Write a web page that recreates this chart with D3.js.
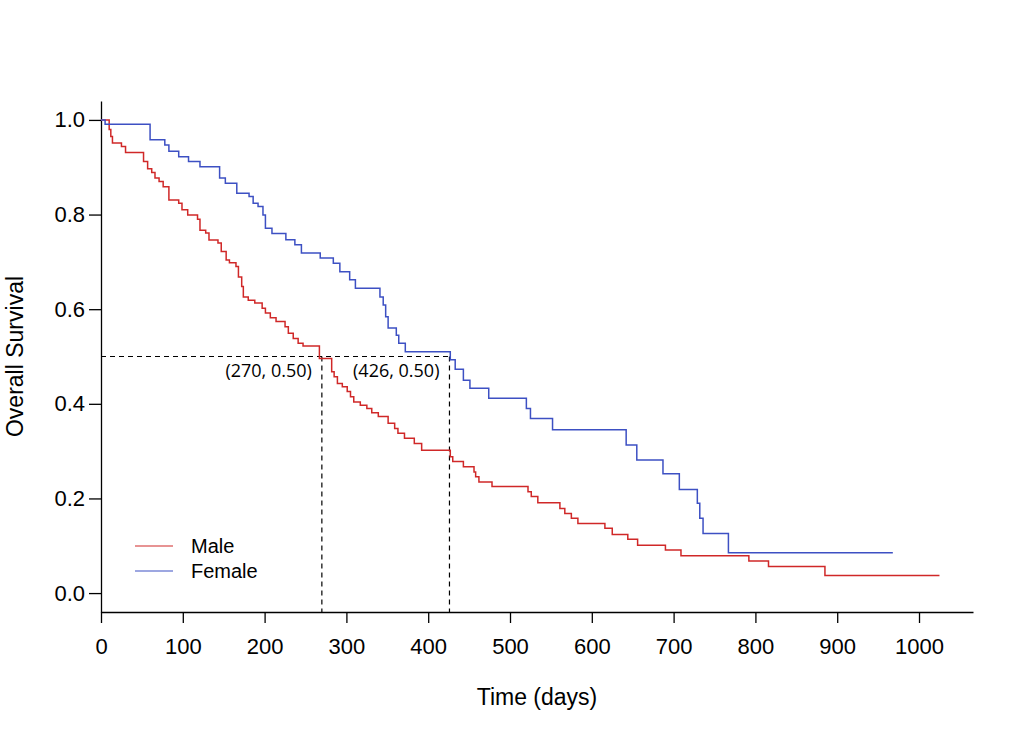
<!DOCTYPE html>
<html>
<head>
<meta charset="utf-8">
<script src="https://cdn.jsdelivr.net/npm/d3@7"></script>
<style>
  body { margin: 0; background: #fff; }
  svg text { font-family: "Liberation Sans", Arial, sans-serif; fill: #000; }
  .axis path, .axis line { stroke: #000; stroke-width: 1.3; }
  .note { font-family: "Open Sans", "Noto Sans", sans-serif; }
</style>
</head>
<body>
<div id="container"></div>
<script>
// Kaplan-Meier steps (time in days, survival after the drop)
const male_time = [0, 10, 12, 14, 25, 30, 52, 57, 62, 66, 71, 76, 83, 95, 99, 106, 118, 121, 128, 132,
  143, 147, 153, 157, 165, 168, 172, 174, 180, 188, 197, 201, 207, 214, 225, 229, 235, 241, 247, 267,
  282, 285, 289, 295, 301, 305, 309, 317, 325, 331, 339, 351, 359, 363, 371, 383, 392, 427, 430, 443,
  456, 458, 462, 478, 522, 526, 534, 561, 567, 575, 583, 616, 625, 644, 656, 690, 709, 792, 816, 885, 1025];
const male_surv = [1.0, 0.98, 0.965, 0.951, 0.944, 0.931, 0.912, 0.897, 0.889, 0.877, 0.870, 0.859, 0.831, 0.824, 0.810, 0.799, 0.790, 0.767, 0.761, 0.746,
  0.740, 0.722, 0.704, 0.698, 0.690, 0.668, 0.648, 0.626, 0.619, 0.613, 0.602, 0.592, 0.582, 0.574, 0.563, 0.549, 0.538, 0.528, 0.522, 0.496,
  0.468, 0.457, 0.443, 0.436, 0.426, 0.415, 0.404, 0.397, 0.390, 0.381, 0.373, 0.359, 0.348, 0.338, 0.327, 0.316, 0.302, 0.288, 0.278, 0.267,
  0.256, 0.246, 0.235, 0.225, 0.214, 0.204, 0.191, 0.179, 0.168, 0.158, 0.147, 0.137, 0.124, 0.114, 0.101, 0.091, 0.079, 0.068, 0.056, 0.037, 0.037];

const female_time = [0, 5, 60, 78, 83, 95, 107, 121, 145, 152, 166, 181, 186, 192, 198, 201, 209, 226, 237, 245,
  268, 284, 292, 304, 311, 341, 345, 348, 351, 361, 364, 372, 427, 433, 443, 451, 474, 520, 525, 552,
  642, 655, 687, 707, 729, 732, 736, 767, 968];
const female_surv = [1.0, 0.991, 0.958, 0.947, 0.934, 0.922, 0.912, 0.901, 0.877, 0.866, 0.845, 0.838, 0.824, 0.817, 0.799, 0.771, 0.760, 0.747, 0.736, 0.719,
  0.708, 0.697, 0.679, 0.662, 0.644, 0.626, 0.609, 0.584, 0.560, 0.545, 0.528, 0.510, 0.493, 0.473, 0.450, 0.433, 0.412, 0.390, 0.369, 0.345,
  0.313, 0.281, 0.252, 0.219, 0.190, 0.158, 0.126, 0.085, 0.085];

const groups = ["Male", "Female"];
const colors = ["#d02828", "#3d50c3"];

const x_ticks = [0, 100, 200, 300, 400, 500, 600, 700, 800, 900, 1000];
const y_ticks = [0, 0.2, 0.4, 0.6, 0.8, 1.0];

// median survival markers
const medians = [270, 426];
const median_surv = 0.5;

var width = 1024, height = 737;

var svg = d3.select("#container").append("svg")
    .attr("width", width)
    .attr("height", height);

var x = d3.scaleLinear().domain([0, 1066]).range([101, 973]);
var y = d3.scaleLinear().domain([-0.04, 1.04]).range([612, 101]);

// axes
var xaxis = svg.append("g")
    .attr("class", "axis")
    .attr("transform", "translate(0," + y.range()[0] + ")")
    .call(d3.axisBottom(x).tickValues(x_ticks).tickSize(11).tickSizeOuter(0).tickPadding(15).tickFormat(d3.format("d")));

var yaxis = svg.append("g")
    .attr("class", "axis")
    .attr("transform", "translate(" + x.range()[0] + ",0)")
    .call(d3.axisLeft(y).tickValues(y_ticks).tickSize(12).tickSizeOuter(0).tickPadding(4).tickFormat(d3.format(".1f")));

svg.selectAll(".axis text").style("font-size", "22px")
    .style("font-family", "'Liberation Sans', Arial, sans-serif");

// dashed guide lines
var guides = svg.append("g")
    .style("stroke", "#000")
    .style("stroke-width", 1.2)
    .style("stroke-dasharray", "5,4")
    .style("fill", "none");

guides.append("line")
    .attr("x1", x(0)).attr("x2", x(d3.max(medians)))
    .attr("y1", y(median_surv)).attr("y2", y(median_surv));

guides.selectAll("line.v")
    .data(medians)
    .enter()
    .append("line")
    .classed("v", true)
    .attr("x1", function(d){ return x(d); })
    .attr("x2", function(d){ return x(d); })
    .attr("y1", y(median_surv))
    .attr("y2", y.range()[0]);

svg.selectAll("text.note")
    .data(medians)
    .enter()
    .append("text")
    .classed("note", true)
    .attr("x", function(d){ return x(d) - 10; })
    .attr("y", y(median_surv) + 20)
    .attr("text-anchor", "end")
    .style("font-size", "18px")
    .text(function(d){ return "(" + d + ", " + median_surv.toFixed(2) + ")"; });

// survival curves
var line = d3.line()
    .curve(d3.curveStepAfter)
    .x(function(d){ return x(d[0]); })
    .y(function(d){ return y(d[1]); });

var series = [d3.zip(male_time, male_surv), d3.zip(female_time, female_surv)];

svg.selectAll("path.km")
    .data(series)
    .enter()
    .append("path")
    .classed("km", true)
    .attr("d", line)
    .style("fill", "none")
    .style("stroke-width", 1.5)
    .style("stroke", function(d, i){ return colors[i]; });

// legend
var legend = svg.append("g");
groups.forEach(function(g, i){
    var ly = 546 + i * 25;
    legend.append("line")
	.attr("x1", 135).attr("x2", 173)
	.attr("y1", ly).attr("y2", ly)
	.style("stroke", colors[i])
	.style("stroke-width", 1.2);
    legend.append("text")
	.attr("x", 191)
	.attr("y", ly + 7)
	.style("font-size", "20px")
	.text(g);
});

// axis titles
svg.append("text")
    .attr("x", (x.range()[0] + x.range()[1]) / 2)
    .attr("y", 705)
    .attr("text-anchor", "middle")
    .style("font-size", "23px")
    .text("Time (days)");

svg.append("text")
    .attr("transform", "translate(23," + (y.range()[0] + y.range()[1]) / 2 + ") rotate(-90)")
    .attr("text-anchor", "middle")
    .style("font-size", "23px")
    .text("Overall Survival");
</script>
</body>
</html>
